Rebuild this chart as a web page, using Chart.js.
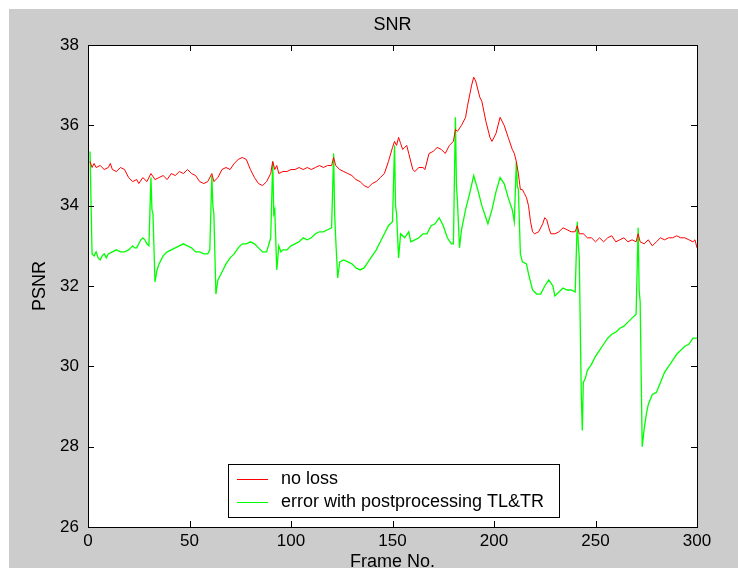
<!DOCTYPE html>
<html>
<head>
<meta charset="utf-8">
<script src="https://cdn.jsdelivr.net/npm/chart.js@4/dist/chart.umd.min.js"></script>
<style>
  html, body { margin: 0; padding: 0; background: #fff; }
  #wrap { width: 738px; height: 572px; }
</style>
</head>
<body>
<div id="wrap"><canvas id="snrChart" width="738" height="572"></canvas></div>
<script>
// ------------------------
// Data
// ------------------------
const chartTitle = 'SNR';
const xTitle = 'Frame No.';
const yTitle = 'PSNR';
const seriesNames = ['no loss', 'error with postprocessing TL&TR'];
const xTicks = [0, 50, 100, 150, 200, 250, 300];
const yTicks = [26, 28, 30, 32, 34, 36, 38];

// no loss
const noLossFrames = [1, 2, 3, 4, 6, 8, 10, 11, 12, 14, 16, 18, 20, 22, 24, 25, 27, 29, 31, 33,
  35, 37, 39, 41, 43, 45, 47, 49, 51, 53, 55, 57, 59, 61, 62, 64, 66, 68, 70, 72,
  74, 76, 78, 80, 82, 84, 86, 88, 90, 91, 92, 93, 94, 96, 98, 100, 102, 104, 106, 108,
  110, 112, 114, 116, 118, 120, 121, 122, 124, 126, 128, 130, 132, 134, 136, 138, 140, 142, 144, 146,
  148, 150, 151, 152, 153, 154, 155, 156, 157, 158, 160, 161, 163, 165, 166, 168, 170, 172, 174, 176,
  178, 180, 181, 182, 184, 186, 187, 189, 190, 191, 193, 194, 196, 198, 199, 201, 203, 205, 207, 209,
  210, 211, 212, 213, 214, 215, 216, 217, 218, 219, 220, 222, 224, 225, 226, 227, 228, 230, 232, 234,
  236, 238, 240, 241, 242, 244, 246, 248, 250, 252, 254, 256, 258, 260, 262, 264, 266, 268, 270, 271,
  272, 274, 276, 278, 280, 282, 284, 286, 288, 290, 292, 294, 296, 298, 299, 300];
const noLossPsnr = [35.1, 34.95, 35.05, 34.95, 35.0, 34.9, 34.95, 35.05, 34.9, 34.85, 34.95, 34.9, 34.7, 34.6, 34.65, 34.55, 34.7, 34.6, 34.8, 34.65,
  34.7, 34.75, 34.65, 34.8, 34.75, 34.85, 34.8, 34.9, 34.8, 34.75, 34.6, 34.55, 34.6, 34.8, 34.6, 34.7, 34.9, 34.95, 34.9, 35.05,
  35.15, 35.2, 35.15, 34.9, 34.7, 34.55, 34.5, 34.6, 34.8, 35.1, 34.9, 35.0, 34.8, 34.85, 34.85, 34.9, 34.9, 34.95, 34.9, 34.95,
  34.9, 34.95, 35.0, 34.95, 35.0, 35.0, 35.2, 35.0, 34.9, 34.85, 34.8, 34.75, 34.65, 34.6, 34.5, 34.45, 34.55, 34.6, 34.7, 34.8,
  35.1, 35.45, 35.6, 35.5, 35.7, 35.55, 35.4, 35.45, 35.5, 35.3, 34.9, 34.85, 34.95, 34.95, 34.9, 35.3, 35.35, 35.45, 35.4, 35.3,
  35.5, 35.6, 35.9, 35.85, 36.0, 36.2, 36.5, 37.0, 37.2, 37.1, 36.7, 36.6, 36.1, 35.7, 35.6, 35.8, 36.2, 36.0, 35.7, 35.4,
  35.3, 35.1, 34.8, 34.4, 34.4, 34.3, 34.2, 34.0, 33.6, 33.35, 33.3, 33.35, 33.55, 33.7, 33.65, 33.45, 33.3, 33.3, 33.35, 33.45,
  33.4, 33.35, 33.35, 33.5, 33.3, 33.3, 33.2, 33.2, 33.1, 33.2, 33.1, 33.2, 33.25, 33.1, 33.15, 33.2, 33.1, 33.15, 33.1, 33.3,
  33.1, 33.05, 33.15, 33.0, 33.1, 33.2, 33.15, 33.2, 33.2, 33.25, 33.2, 33.2, 33.15, 33.1, 33.15, 32.95];

// error with postprocessing TL&TR
const errorFrames = [1, 2, 3, 4, 5, 6, 7, 8, 9, 10, 12, 14, 16, 18, 20, 21, 22, 23, 24, 26,
  27, 28, 29, 30, 31, 31.5, 32, 33, 34, 35, 37, 39, 41, 43, 45, 47, 49, 51, 53, 55,
  57, 59, 60, 61, 61.5, 62, 63, 64, 66, 68, 70, 72, 74, 76, 78, 80, 82, 84, 86, 88,
  90, 91, 91.5, 92, 93, 94, 95, 96, 98, 100, 102, 104, 106, 108, 110, 112, 114, 116, 118, 120,
  121, 121.5, 122, 123, 124, 126, 128, 130, 132, 134, 136, 138, 140, 142, 144, 146, 148, 150, 151, 151.5,
  152, 153, 154, 156, 158, 159, 161, 163, 165, 167, 169, 171, 173, 175, 177, 179, 180, 181, 181.5, 182,
  183, 184, 186, 188, 190, 192, 194, 196, 197, 199, 201, 203, 205, 207, 209, 210, 211, 211.5, 212, 213,
  214, 216, 217, 219, 221, 223, 225, 227, 229, 230, 232, 234, 236, 238, 240, 241, 241.5, 242, 243, 243.5,
  244, 245, 246, 248, 250, 252, 254, 256, 258, 260, 262, 264, 266, 268, 270, 271, 271.5, 272, 273, 274,
  275, 276, 278, 280, 282, 284, 286, 288, 290, 292, 294, 296, 298, 300];
const errorPsnr = [35.35, 32.8, 32.75, 32.85, 32.7, 32.65, 32.75, 32.8, 32.7, 32.8, 32.85, 32.9, 32.85, 32.85, 32.9, 32.95, 33.0, 32.95, 32.95, 33.15,
  33.2, 33.15, 33.05, 33.0, 34.7, 33.9, 33.8, 32.1, 32.4, 32.55, 32.75, 32.85, 32.9, 32.95, 33.0, 33.05, 33.0, 32.95, 32.85, 32.85,
  32.8, 32.8, 32.9, 34.75, 34.0, 33.8, 31.8, 32.15, 32.35, 32.55, 32.7, 32.8, 32.95, 33.05, 33.05, 33.1, 33.05, 32.95, 32.85, 32.85,
  33.2, 35.1, 33.8, 33.9, 32.4, 33.0, 32.85, 32.9, 32.9, 33.0, 33.05, 33.1, 33.2, 33.15, 33.2, 33.3, 33.35, 33.35, 33.4, 33.45,
  35.3, 33.8, 33.2, 32.2, 32.6, 32.65, 32.6, 32.55, 32.45, 32.4, 32.45, 32.6, 32.75, 32.9, 33.1, 33.3, 33.5, 33.6, 35.5, 34.0,
  33.8, 32.7, 33.3, 33.2, 33.35, 33.1, 33.15, 33.2, 33.3, 33.3, 33.5, 33.55, 33.7, 33.5, 33.2, 33.05, 33.05, 36.2, 34.5, 34.1,
  32.95, 33.4, 33.9, 34.3, 34.75, 34.4, 34.0, 33.7, 33.55, 33.9, 34.35, 34.7, 34.55, 34.2, 33.9, 33.6, 35.1, 34.5, 34.4, 32.8,
  32.6, 32.55, 32.3, 31.9, 31.8, 31.8, 32.0, 32.15, 32.0, 31.75, 31.85, 31.95, 31.9, 31.9, 31.85, 33.6, 33.1, 32.7, 29.3, 28.4,
  29.6, 29.7, 29.9, 30.05, 30.25, 30.4, 30.55, 30.7, 30.8, 30.85, 30.95, 31.0, 31.1, 31.2, 31.3, 33.45, 31.9, 31.6, 28.0, 28.45,
  28.8, 29.05, 29.3, 29.35, 29.6, 29.85, 30.0, 30.15, 30.3, 30.4, 30.5, 30.55, 30.7, 30.7];

const seriesColors = ['#ff0000', '#00ff00'];
const FONT = '"Liberation Sans", Arial, sans-serif';

// ------------------------
// MATLAB-like frame: gray figure, white axes, inward ticks, legend box
// ------------------------
const matlabFrame = {
    id: 'matlabFrame',
    beforeDraw(chart) {
        const { ctx, chartArea: a } = chart;
        ctx.save();
        ctx.fillStyle = '#ffffff';
        ctx.fillRect(0, 0, chart.width, chart.height);
        ctx.fillStyle = '#cccccc';
        ctx.fillRect(9, 9, chart.width - 9, chart.height - 13);
        ctx.fillStyle = '#ffffff';
        ctx.fillRect(a.left, a.top, a.right - a.left, a.bottom - a.top);
        ctx.restore();
    },
    afterDraw(chart) {
        const { ctx, chartArea: a } = chart;
        const xs = chart.scales.x;
        const ys = chart.scales.y;
        ctx.save();
        ctx.strokeStyle = '#000';
        ctx.lineWidth = 1;
        ctx.strokeRect(a.left + 0.5, a.top + 0.5, a.right - a.left, a.bottom - a.top);

        // inward ticks on all four sides
        const tl = 6;
        ctx.beginPath();
        xTicks.forEach(v => {
            const px = Math.round(xs.getPixelForValue(v)) + 0.5;
            ctx.moveTo(px, a.bottom); ctx.lineTo(px, a.bottom - tl);
            ctx.moveTo(px, a.top); ctx.lineTo(px, a.top + tl);
        });
        yTicks.forEach(v => {
            const py = Math.round(ys.getPixelForValue(v)) + 0.5;
            ctx.moveTo(a.left, py); ctx.lineTo(a.left + tl, py);
            ctx.moveTo(a.right, py); ctx.lineTo(a.right - tl, py);
        });
        ctx.stroke();

        // titles
        ctx.fillStyle = '#000';
        ctx.font = '18px ' + FONT;
        ctx.textAlign = 'center';
        ctx.textBaseline = 'middle';
        const cx = (a.left + a.right) / 2;
        ctx.fillText(chartTitle, cx, 25);
        ctx.fillText(xTitle, cx, 562);
        ctx.save();
        ctx.translate(40, (a.top + a.bottom) / 2);
        ctx.rotate(-Math.PI / 2);
        ctx.fillText(yTitle, 0, 0);
        ctx.restore();

        // legend box
        const lx = 228, ly = 464, lw = 331, lh = 53;
        ctx.fillStyle = '#fff';
        ctx.fillRect(lx, ly, lw, lh);
        ctx.strokeRect(lx + 0.5, ly + 0.5, lw, lh);
        ctx.font = '18px ' + FONT;
        ctx.textAlign = 'left';
        chart.data.datasets.forEach((ds, i) => {
            const y = ly + 15 + i * 23;
            ctx.strokeStyle = ds.borderColor;
            ctx.beginPath();
            ctx.moveTo(lx + 9, y + 0.5);
            ctx.lineTo(lx + 40, y + 0.5);
            ctx.stroke();
            ctx.fillStyle = '#000';
            ctx.fillText(ds.label, lx + 53, y);
        });
        ctx.restore();
    }
};

// ------------------------
// Build chart
// ------------------------
function toPoints(xsArr, ysArr) {
    return xsArr.map((x, i) => ({ x: x, y: ysArr[i] }));
}

new Chart(document.getElementById('snrChart'), {
    type: 'line',
    data: {
        datasets: [
            {
                label: seriesNames[0],
                data: toPoints(noLossFrames, noLossPsnr),
                borderColor: seriesColors[0],
                borderWidth: 1,
                pointRadius: 0,
                tension: 0
            },
            {
                label: seriesNames[1],
                data: toPoints(errorFrames, errorPsnr),
                borderColor: seriesColors[1],
                borderWidth: 1.3,
                pointRadius: 0,
                tension: 0
            }
        ]
    },
    options: {
        responsive: false,
        animation: false,
        layout: { padding: { top: 45, right: 41, left: 0, bottom: 0 } },
        plugins: {
            legend: { display: false },
            tooltip: { enabled: false }
        },
        scales: {
            x: {
                type: 'linear',
                min: 0,
                max: 300,
                afterBuildTicks: s => { s.ticks = xTicks.map(v => ({ value: v })); },
                afterFit: s => { s.height = 45; },
                grid: { display: false, drawTicks: false, tickLength: 0 },
                border: { display: false },
                ticks: { color: '#000', padding: 4, font: { family: FONT, size: 17 }, maxRotation: 0 }
            },
            y: {
                type: 'linear',
                min: 26,
                max: 38,
                afterBuildTicks: s => { s.ticks = yTicks.map(v => ({ value: v })); },
                afterFit: s => { s.width = 88; },
                grid: { display: false, drawTicks: false, tickLength: 0 },
                border: { display: false },
                ticks: { color: '#000', padding: 9, font: { family: FONT, size: 17 } }
            }
        }
    },
    plugins: [matlabFrame]
});
</script>
</body>
</html>
